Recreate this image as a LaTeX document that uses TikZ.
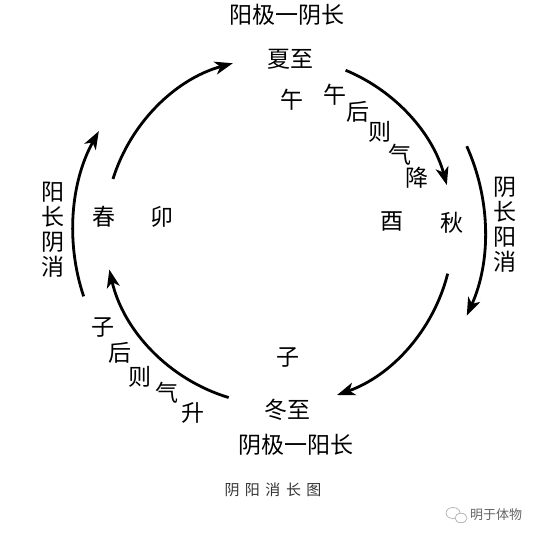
\documentclass[tikz,border=0pt]{standalone}
\usepackage{fontspec}
\newfontfamily\cjk{Noto Sans CJK SC}
\usetikzlibrary{arrows.meta}
\begin{document}
\begin{tikzpicture}[x=1pt,y=1pt,
  lbl/.style={font=\cjk\fontsize{23}{25}\selectfont, inner sep=0pt, align=center},
  captxt/.style={font=\cjk\fontsize{15}{15}\selectfont, inner sep=0pt, text=black!80},
  wm/.style={font=\cjk\fontsize{13}{13}\selectfont, inner sep=0pt, text=black!60},
  arr/.style={line width=2.8pt, -{Stealth[length=18pt,width=13pt,inset=5pt]}}]
\useasboundingbox[fill=white] (0,0) rectangle (538,540);
\coordinate (O) at (279,309);
% inner arcs
\draw[arr] (O) ++(162.6:174) arc[start angle=162.6,end angle=105.4,radius=174];
\draw[arr] (O) ++(67.5:174) arc[start angle=67.5,end angle=15.3,radius=174];
\draw[arr] (O) ++(-14.2:174) arc[start angle=-14.2,end angle=-70.5,radius=174];
\draw[arr] (O) ++(253.2:174) arc[start angle=253.2,end angle=192.8,radius=174];
% outer arcs
\draw[arr] (O) ++(198.5:206) arc[start angle=198.5,end angle=151,radius=206];
\draw[arr] (O) ++(24.3:206) arc[start angle=24.3,end angle=-24.3,radius=206];
% labels
\node[lbl] (t1) at (287,525) {阳极一阴长};
\node[lbl] (xz) at (290,481) {夏至};
\node[lbl] (wu) at (292,440) {午};
\node[lbl] (a1) at (335,445) {午};
\node[lbl] (a2) at (358,428) {后};
\node[lbl] (a3) at (380,408) {则};
\node[lbl] (a4) at (400,385) {气};
\node[lbl] (a5) at (417,362) {降};
\node[lbl] (you) at (392,318) {酉};
\node[lbl] (qiu) at (452,317) {秋};
\node[lbl] (rv) at (505,315) {阴\\长\\阳\\消};
\node[lbl] (lv) at (53,310.5) {阳\\长\\阴\\消};
\node[lbl] (chun) at (104,323) {春};
\node[lbl] (mao) at (162,323) {卯};
\node[lbl] (b1) at (103,213) {子};
\node[lbl] (b2) at (120,187) {后};
\node[lbl] (b3) at (140,163) {则};
\node[lbl] (b4) at (167,147) {气};
\node[lbl] (b5) at (193,127) {升};
\node[lbl] (zi) at (288,183) {子};
\node[lbl] (dz) at (287,130) {冬至};
\node[lbl] (t2) at (296,95) {阴极一阳长};
\node[captxt] (title) at (273,50) {阴\hspace{5.5pt}阳\hspace{5.5pt}消\hspace{5.5pt}长\hspace{5.5pt}图};
% watermark
\draw[black!35, line width=0.6pt] (453,27) ellipse[x radius=7,y radius=5.5];
\draw[black!35, line width=0.6pt, fill=white] (461,22) ellipse[x radius=6,y radius=4.8];
\node[wm] (wmt) at (496,25) {明于体物};
\end{tikzpicture}
\end{document}
